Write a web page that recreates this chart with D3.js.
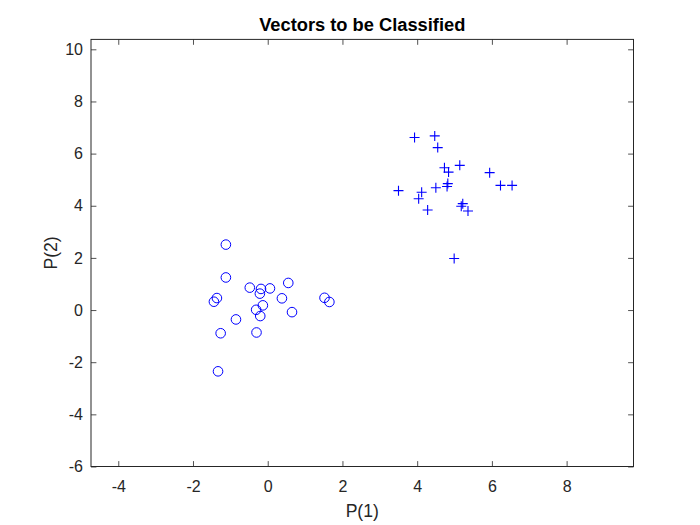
<!DOCTYPE html>
<html>
<head>
<meta charset="utf-8">
<script src="https://cdn.jsdelivr.net/npm/d3@7"></script>
<style>
  html, body { margin: 0; padding: 0; background: #fff; }
  text { font-family: "Liberation Sans", Arial, Helvetica, sans-serif; }
</style>
</head>
<body>
<svg id="chart" width="700" height="525"></svg>
<script>
// Class 1 vectors (plotted as '+')
const crossX = [3.93, 4.47, 4.55, 4.73, 4.84, 5.14, 5.94, 6.23, 6.54, 3.50, 4.12, 4.04, 4.50, 4.82, 4.80, 4.28, 5.22, 5.18, 5.36, 4.99];
const crossY = [6.62, 6.68, 6.23, 5.46, 5.29, 5.55, 5.27, 4.78, 4.78, 4.58, 4.52, 4.27, 4.69, 4.85, 4.74, 3.84, 4.08, 3.98, 3.80, 1.98];
// Class 0 vectors (plotted as 'o')
const circX = [-1.12, -1.12, -0.48, -0.18, 0.06, -0.21, 0.55, 0.38, -1.36, -1.44, 1.52, 1.65, -0.13, -0.31, -0.20, 0.65, -0.85, -1.26, -0.30, -1.33];
const circY = [2.51, 1.25, 0.86, 0.81, 0.83, 0.63, 1.04, 0.45, 0.46, 0.32, 0.47, 0.31, 0.18, 0.01, -0.23, -0.08, -0.36, -0.89, -0.86, -2.35];
const xTicks = [-4, -2, 0, 2, 4, 6, 8];
const yTicks = [-6, -4, -2, 0, 2, 4, 6, 8, 10];
const xDomain = [-4.73, 9.79];
const yDomain = [-6, 10.38];
const titleText = "Vectors to be Classified";
const xLabelText = "P(1)";
const yLabelText = "P(2)";

const svg = d3.select("#chart");
const L = 91, R = 633.5, T = 39.4, B = 466.5;
const x = d3.scaleLinear().domain(xDomain).range([L, R]);
const y = d3.scaleLinear().domain(yDomain).range([B, T]);
const axisColor = "#262626";
const tickLen = 5.4;

svg.append("rect").attr("x", L).attr("y", T).attr("width", R - L).attr("height", B - T).attr("fill", "#fff");

const fmt = d => (d < 0 ? "-" + Math.abs(d) : String(d));
const gx = svg.append("g").attr("transform", `translate(0,${B})`)
  .call(d3.axisBottom(x).tickValues(xTicks).tickSize(-tickLen).tickPadding(14).tickFormat(fmt));
const gxTop = svg.append("g").attr("transform", `translate(0,${T})`)
  .call(d3.axisTop(x).tickValues(xTicks).tickSize(-tickLen).tickFormat(""));
const gy = svg.append("g").attr("transform", `translate(${L},0)`)
  .call(d3.axisLeft(y).tickValues(yTicks).tickSize(-tickLen).tickPadding(8).tickFormat(fmt));
const gyR = svg.append("g").attr("transform", `translate(${R},0)`)
  .call(d3.axisRight(y).tickValues(yTicks).tickSize(-tickLen).tickFormat(""));

[gx, gxTop, gy, gyR].forEach(g => {
  g.select(".domain").remove();
  g.selectAll(".tick line").attr("stroke", axisColor).attr("stroke-width", 0.8);
  g.selectAll(".tick text").attr("fill", axisColor).style("font-size", "16px")
    .style("font-family", "'Liberation Sans', Arial, Helvetica, sans-serif");
});

svg.append("rect").attr("x", L).attr("y", T).attr("width", R - L).attr("height", B - T)
  .attr("fill", "none").attr("stroke", axisColor).attr("stroke-width", 1);

const blue = "#0000ff";
const crosses = d3.zip(crossX, crossY);
const arm = 5;
svg.append("g").selectAll("path.cross").data(crosses).join("path")
  .attr("class", "cross")
  .attr("d", d => {
    const cx = x(d[0]), cy = y(d[1]);
    return `M${cx - arm},${cy}H${cx + arm}M${cx},${cy - arm}V${cy + arm}`;
  })
  .attr("stroke", blue).attr("stroke-width", 1.1).attr("fill", "none");

const circs = d3.zip(circX, circY);
svg.append("g").selectAll("circle").data(circs).join("circle")
  .attr("cx", d => x(d[0])).attr("cy", d => y(d[1])).attr("r", 4.8)
  .attr("fill", "none").attr("stroke", blue).attr("stroke-width", 1);

svg.append("text").attr("x", (L + R) / 2).attr("y", 30.5).attr("text-anchor", "middle")
  .style("font-size", "18.3px").style("font-weight", "bold").attr("fill", "#000").text(titleText);
svg.append("text").attr("x", (L + R) / 2).attr("y", 516.5).attr("text-anchor", "middle")
  .style("font-size", "17.6px").attr("fill", axisColor).text(xLabelText);
svg.append("text").attr("transform", `translate(57,${(T + B) / 2}) rotate(-90)`).attr("text-anchor", "middle")
  .style("font-size", "17.6px").attr("fill", axisColor).text(yLabelText);
</script>
</body>
</html>
